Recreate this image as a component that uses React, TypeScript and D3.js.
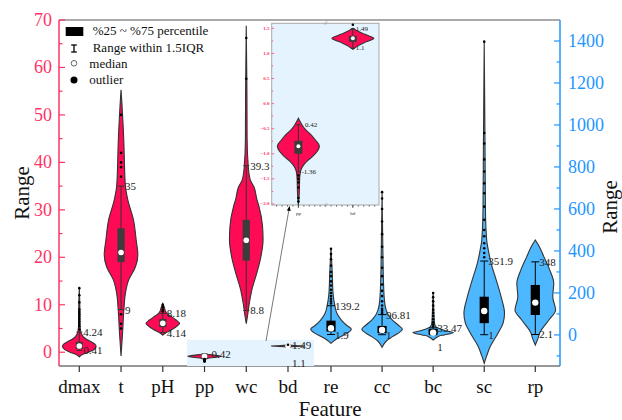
import * as d3 from 'd3';
import React from 'react';

const leftFeatures = ['dmax', 't', 'pH', 'pp', 'wc', 'bd'];
const rightFeatures = ['re', 'cc', 'bc', 'sc', 'rp'];
const features = [...leftFeatures, ...rightFeatures];

// violin outlines: [value, relative width]
const dmaxDensity: [number, number][] = [
  [-1, 0], [-0.5, 0.18], [0, 0.55], [0.6, 0.88], [1.2, 1], [1.7, 0.93], [2.2, 0.7],
  [2.7, 0.45], [3.2, 0.26], [3.8, 0.14], [4.6, 0.07], [6, 0.04], [9, 0.035], [13.5, 0],
];
const tDensity: [number, number][] = [
  [-0.8, 0], [4, 0.09], [9, 0.17], [12.4, 0.26], [15.2, 0.45], [18, 0.86], [20.5, 1],
  [23.7, 0.9], [27.9, 0.74], [32, 0.41], [35, 0.26], [40, 0.2], [44, 0.17], [48, 0.12],
  [52, 0.06], [55.3, 0],
];
const pHDensity: [number, number][] = [
  [3.6, 0], [4.1, 0.18], [4.8, 0.55], [5.5, 0.85], [6.1, 1], [6.8, 0.79], [7.4, 0.55],
  [8.0, 0.3], [8.5, 0.18], [9.5, 0.09], [10.3, 0],
];
const ppDensity: [number, number][] = [
  [-2.02, 0], [-1.8, 0.04], [-1.5, 0.06], [-1.35, 0.1], [-1.25, 0.2], [-1.15, 0.4],
  [-1.05, 0.68], [-0.95, 0.9], [-0.85, 1], [-0.72, 0.8], [-0.6, 0.55], [-0.5, 0.3],
  [-0.4, 0.14], [-0.29, 0],
];
const wcDensity: [number, number][] = [
  [6, 0], [8, 0.09], [10.3, 0.18], [13.1, 0.33], [16.6, 0.62], [20.1, 0.87], [23.7, 1],
  [26.5, 0.97], [30.7, 0.76], [32.1, 0.64], [34.9, 0.45], [36.3, 0.24], [39.1, 0.12],
  [45, 0.05], [55, 0.04], [68.8, 0],
];
const bdDensity: [number, number][] = [
  [1.08, 0], [1.15, 0.24], [1.22, 0.57], [1.3, 1], [1.38, 0.57], [1.44, 0.24], [1.5, 0],
];
const reDensity: [number, number][] = [
  [-40, 0], [-24, 0.2], [-5, 0.54], [10, 0.83], [27, 1], [45, 0.78], [71, 0.51],
  [103, 0.29], [135, 0.2], [200, 0.1], [300, 0.06], [413, 0],
];
const ccDensity: [number, number][] = [
  [-59, 0], [-30, 0.2], [-8, 0.51], [10, 0.82], [27, 1], [45, 0.82], [71, 0.51],
  [95, 0.31], [119, 0.2], [160, 0.12], [250, 0.07], [400, 0.04], [680, 0],
];
const bcDensity: [number, number][] = [
  [-24, 0], [-10, 0.2], [-5, 0.3], [0, 0.55], [11, 1], [20, 0.62], [27, 0.39],
  [35, 0.18], [45, 0.1], [60, 0.06], [100, 0.04], [201, 0],
];
const scDensity: [number, number][] = [
  [-135, 0], [-100, 0.12], [-56, 0.29], [8, 0.68], [56, 0.93], [103, 1], [182, 0.83],
  [262, 0.59], [341, 0.34], [405, 0.2], [452, 0.12], [600, 0.06], [900, 0.04], [1397, 0],
];
const rpDensity: [number, number][] = [
  [-48, 0], [-20, 0.12], [10, 0.22], [24, 0.3], [71, 0.67], [119, 1], [182, 0.86],
  [246, 0.91], [310, 0.71], [373, 0.42], [420, 0.2], [452, 0],
];
const densities = [
  dmaxDensity, tDensity, pHDensity, ppDensity, wcDensity, bdDensity,
  reDensity, ccDensity, bcDensity, scDensity, rpDensity,
];

const q1 = [0.7, 19, 5.3, -1.0, 19.3, 1.23, 16, 8, 2, 56, 95];
const q3 = [2.2, 26.1, 7.0, -0.74, 27.9, 1.35, 68, 43, 28, 182, 238];
const medians = [1.3, 21, 6.1, -0.85, 23.6, 1.3, 32, 24, 11, 114, 154];
const whiskerLow = [0.41, 9, 4.14, -1.36, 8.8, 1.1, 1.9, 1, 1, 1, 2.1];
const whiskerHigh = [4.24, 35, 8.18, -0.42, 39.3, 1.49, 139.2, 96.81, 33.47, 351.9, 348];
const highLabels = ['4.24', '35', '8.18', '0.42', '39.3', '1.49', '139.2', '96.81', '33.47', '351.9', '348'];
const lowLabels = ['0.41', '9', '4.14', '-1.36', '8.8', '1.1', '1.9', '1', '1', '1', '2.1'];
const outliers = [
  [4.8, 5.5, 6, 6.5, 7, 7.5, 8, 8.5, 9, 10.5, 12, 13.5],
  [37, 39, 40, 42, 50, 8, 6, 5],
  [8.6, 9.0, 9.5, 10.0],
  [-1.43, -1.5, -1.57, -1.67, -1.88, -1.95],
  [57.6, 66.2],
  [1.57],
  [150, 160, 172, 185, 200, 215, 235, 255, 280, 300, 330, 360, 385, 410],
  [105, 115, 125, 140, 160, 185, 210, 240, 280, 320, 370, 420, 480, 540, 600, 650, 680],
  [40, 50, 60, 75, 90, 105, 120, 140, 160, 180, 200],
  [370, 390, 413, 437, 470, 500, 548, 611, 675, 722, 778, 836, 912, 962, 1397],
  [],
];

const leftTicks = [0, 10, 20, 30, 40, 50, 60, 70];
const leftMinor = [5, 15, 25, 35, 45, 55, 65];
const rightTicks = [0, 200, 400, 600, 800, 1000, 1200, 1400];
const rightMinor = [-100, 100, 300, 500, 700, 900, 1100, 1300];
const insetTicks = [-2, -1.5, -1, -0.5, 0, 0.5, 1, 1.5];
const insetFeatures = ['pp', 'bd'];

const SERIF = 'Liberation Serif, Times New Roman, DejaVu Serif, serif';
const RED = '#ff3366';
const BLUE = '#1e96ff';
const RED_FILL = '#ff0a54';
const BLUE_FILL = '#4db8ff';
const OUTLINE = '#333';

// label nudges where the original moved them
const hiDx: Record<string, number> = { pp: 7 };
const loDy: Record<string, number> = { bc: 12, bd: 16 };

type Scale = d3.ScaleLinear<number, number>;

function Violin({
  i, cx, y, w, fill, boxFill, line, boxHalf, medR, fontSize, showLo = true, capHalf,
  labelDx = 4, hiLabelDx, loLabelDy = 0, dotR = 1.3,
}: {
  i: number; cx: number; y: Scale; w: Scale; fill: string; boxFill: string; line: string;
  boxHalf: number; medR: number; fontSize: number; showLo?: boolean; capHalf: number;
  labelDx?: number; hiLabelDx?: number; loLabelDy?: number; dotR?: number;
}) {
  const area = d3
    .area<[number, number]>()
    .curve(d3.curveMonotoneY)
    .x0(d => cx - w(d[1]))
    .x1(d => cx + w(d[1]))
    .y(d => y(d[0]));
  return (
    <g>
      <path d={area(densities[i]) || ''} fill={fill} stroke={OUTLINE} strokeWidth={1.1} />
      <line x1={cx} x2={cx} y1={y(whiskerLow[i])} y2={y(whiskerHigh[i])} stroke={line} strokeWidth={1} />
      {[whiskerLow[i], whiskerHigh[i]].map((v, k) => (
        <line key={k} x1={cx - capHalf} x2={cx + capHalf} y1={y(v)} y2={y(v)} stroke={line} strokeWidth={1} />
      ))}
      <rect
        x={cx - boxHalf}
        width={boxHalf * 2}
        y={y(q3[i])}
        height={Math.max(1, y(q1[i]) - y(q3[i]))}
        fill={boxFill}
      />
      <circle cx={cx} cy={y(medians[i])} r={medR} fill="#fff" />
      {outliers[i].map((v, k) => (
        <circle key={k} cx={cx} cy={y(v)} r={dotR} fill="#000" />
      ))}
      <text
        x={cx + (hiLabelDx ?? labelDx)}
        y={y(whiskerHigh[i])}
        dominantBaseline="central"
        fontFamily={SERIF}
        fontSize={fontSize}
        fill="#222"
      >
        {highLabels[i]}
      </text>
      {showLo && (
        <text
          x={cx + labelDx}
          y={y(whiskerLow[i]) + loLabelDy}
          dominantBaseline="central"
          fontFamily={SERIF}
          fontSize={fontSize}
          fill="#222"
        >
          {lowLabels[i]}
        </text>
      )}
    </g>
  );
}

export default function App() {
  const left = 59, right = 560, top = 20, bottom = 366;
  const yL = d3.scaleLinear().domain([-2.9, 70]).range([bottom, top]);
  const yR = d3.scaleLinear().domain([-148, 1500]).range([bottom, top]);
  const xL = d3.scalePoint<string>().domain(leftFeatures).range([79.3, 288]);
  const xR = d3.scalePoint<string>().domain(rightFeatures).range([331, 535.3]);
  const wL = d3.scaleLinear().domain([0, 1]).range([0, 16.8]);
  const wR = d3.scaleLinear().domain([0, 1]).range([0, 20.3]);

  // inset
  const inL = 271.7, inR = 379, inT = 23.3, inB = 205;
  const yIn = d3.scaleLinear().domain([-2.02, 1.6]).range([inB, inT]);
  const xIn = d3.scaleLinear().domain([0.51, 2.48]).range([inL, inR]);
  const wIn = d3.scaleLinear().domain([0, 1]).range([0, 21]);
  const inMinorY = d3.range(-2, 1.6, 0.25);
  const inMinorX = d3.range(0.6, 2.45, 0.1);

  const xOf = (f: string) => (leftFeatures.includes(f) ? xL(f)! : xR(f)!);

  return (
    <svg
      width={622}
      height={420}
      fontFamily={SERIF}
      style={{ position: 'absolute', left: 0, top: 0 }}
    >
      <defs>
        <marker id="arr" viewBox="0 0 10 10" refX="9" refY="5" markerWidth="6" markerHeight="6" orient="auto">
          <path d="M0,1 L10,5 L0,9 z" fill="#000" />
        </marker>
      </defs>
      <rect width={622} height={420} fill="#fff" />

      {/* frame */}
      <line x1={left} x2={right} y1={top} y2={top} stroke="#555" strokeWidth={1} />
      <line x1={left} x2={right} y1={bottom} y2={bottom} stroke="#333" strokeWidth={1.2} />
      <line x1={left} x2={left} y1={top} y2={bottom} stroke={RED} strokeWidth={1.5} />
      <line x1={right} x2={right} y1={top} y2={bottom} stroke={BLUE} strokeWidth={1.5} />

      {/* left axis */}
      {leftTicks.map(t => (
        <g key={t}>
          <line x1={left} x2={left + 6} y1={yL(t)} y2={yL(t)} stroke={RED} strokeWidth={1.2} />
          <text x={52} y={yL(t)} textAnchor="end" dominantBaseline="central" fontFamily={SERIF} fontSize={18} fill={RED}>
            {t}
          </text>
        </g>
      ))}
      {leftMinor.map(t => (
        <line key={t} x1={left} x2={left + 3.5} y1={yL(t)} y2={yL(t)} stroke={RED} strokeWidth={1.2} />
      ))}

      {/* right axis */}
      {rightTicks.map(t => (
        <g key={t}>
          <line x1={right - 6} x2={right} y1={yR(t)} y2={yR(t)} stroke={BLUE} strokeWidth={1.2} />
          <text x={568} y={yR(t)} dominantBaseline="central" fontFamily={SERIF} fontSize={18} fill={BLUE}>
            {t}
          </text>
        </g>
      ))}
      {rightMinor.map(t => (
        <line key={t} x1={right - 3.5} x2={right} y1={yR(t)} y2={yR(t)} stroke={BLUE} strokeWidth={1.2} />
      ))}

      {/* x axis */}
      {features.map(f => (
        <g key={f}>
          <line x1={xOf(f)} x2={xOf(f)} y1={bottom} y2={bottom + 6} stroke="#333" strokeWidth={1.2} />
          <text x={xOf(f)} y={393} textAnchor="middle" fontFamily={SERIF} fontSize={19} fill="#111">
            {f}
          </text>
        </g>
      ))}
      <text x={330} y={416} textAnchor="middle" fontFamily={SERIF} fontSize={21} fill="#111">
        Feature
      </text>
      <text transform="translate(29,193) rotate(-90)" textAnchor="middle" fontFamily={SERIF} fontSize={21} fill="#111">
        Range
      </text>
      <text transform="translate(617,207) rotate(-90)" textAnchor="middle" fontFamily={SERIF} fontSize={21} fill="#111">
        Range
      </text>

      {/* zoom highlight */}
      <rect
        x={xL('pp')! - 17.4}
        y={yL(2.6)}
        width={xL('bd')! + 26 - (xL('pp')! - 17.4)}
        height={bottom - yL(2.6)}
        fill="#e4f3fd"
      />

      {/* violins */}
      {features.map((f, i) => {
        const isLeft = i < leftFeatures.length;
        return (
          <Violin
            key={f}
            i={i}
            cx={xOf(f)}
            y={isLeft ? yL : yR}
            w={isLeft ? wL : wR}
            fill={isLeft ? RED_FILL : BLUE_FILL}
            boxFill={isLeft ? '#3c3c3c' : '#000'}
            line={isLeft ? OUTLINE : '#000'}
            boxHalf={isLeft ? 3.6 : 4.6}
            medR={isLeft ? 2.8 : 3.2}
            capHalf={isLeft ? 3 : 4}
            fontSize={11}
            showLo={f !== 'pp'}
            hiLabelDx={hiDx[f]}
            loLabelDy={loDy[f] ?? 0}
          />
        );
      })}

      {/* connector arrow */}
      <line x1={266} y1={341} x2={289.5} y2={206.5} stroke="#555" strokeWidth={0.8} markerEnd="url(#arr)" />

      {/* inset */}
      <rect x={inL} y={inT} width={inR - inL} height={inB - inT} fill="#e4f3fd" stroke="#a8a8a8" strokeWidth={1} />
      {inMinorY.map((t, k) => (
        <line
          key={k}
          x1={inL}
          x2={inL + (k % 2 === 0 ? 2.5 : 1.5)}
          y1={yIn(t)}
          y2={yIn(t)}
          stroke={RED}
          strokeWidth={0.7}
        />
      ))}
      {insetTicks.map(t => (
        <text
          key={t}
          x={269.5}
          y={yIn(t)}
          textAnchor="end"
          dominantBaseline="central"
          fontFamily={SERIF}
          fontSize={5}
          fontWeight="bold"
          fill={RED}
        >
          {d3.format('.1f')(t)}
        </text>
      ))}
      {inMinorX.map((t, k) => (
        <line key={k} x1={xIn(t)} x2={xIn(t)} y1={inB} y2={inB + 1.8} stroke="#333" strokeWidth={0.6} />
      ))}
      {insetFeatures.map((f, k) => (
        <g key={f}>
          <line x1={xIn(k + 1)} x2={xIn(k + 1)} y1={inB} y2={inB + 3} stroke="#333" strokeWidth={0.8} />
          <text x={xIn(k + 1)} y={inB + 8} textAnchor="middle" dominantBaseline="central" fontFamily={SERIF} fontSize={5} fill="#333">
            {f}
          </text>
        </g>
      ))}
      {[inT, inB].map(yy => (
        <text key={yy} x={xIn(1.5)} y={yy} textAnchor="middle" dominantBaseline="central" fontFamily={SERIF} fontSize={6} fontStyle="italic" fill="#888">
          //
        </text>
      ))}
      {insetFeatures.map((f, k) => (
        <Violin
          key={f}
          i={features.indexOf(f)}
          cx={xIn(k + 1)}
          y={yIn}
          w={wIn}
          fill={RED_FILL}
          boxFill="#3c3c3c"
          line={OUTLINE}
          boxHalf={4}
          medR={2}
          capHalf={2}
          fontSize={7}
          labelDx={3}
          hiLabelDx={f === 'pp' ? 6.5 : 3}
          dotR={1.3}
        />
      ))}

      {/* legend */}
      <rect x={65.7} y={27} width={17.6} height={9} fill="#000" />
      <text x={92.7} y={35} fontFamily={SERIF} fontSize={13} fill="#111">%25 ~ %75 percentile</text>
      <line x1={74} x2={74} y1={45} y2={52} stroke="#000" strokeWidth={1.3} />
      <line x1={71.2} x2={76.8} y1={45} y2={45} stroke="#000" strokeWidth={1.3} />
      <line x1={71.2} x2={76.8} y1={52} y2={52} stroke="#000" strokeWidth={1.3} />
      <text x={92.7} y={52} fontFamily={SERIF} fontSize={13} fill="#111">Range within 1.5IQR</text>
      <circle cx={74} cy={63.3} r={2.8} fill="#fff" stroke="#666" strokeWidth={1} />
      <text x={89.3} y={68} fontFamily={SERIF} fontSize={13} fill="#111">median</text>
      <circle cx={74} cy={80} r={3.5} fill="#000" />
      <text x={89.3} y={84} fontFamily={SERIF} fontSize={13} fill="#111">outlier</text>
    </svg>
  );
}
